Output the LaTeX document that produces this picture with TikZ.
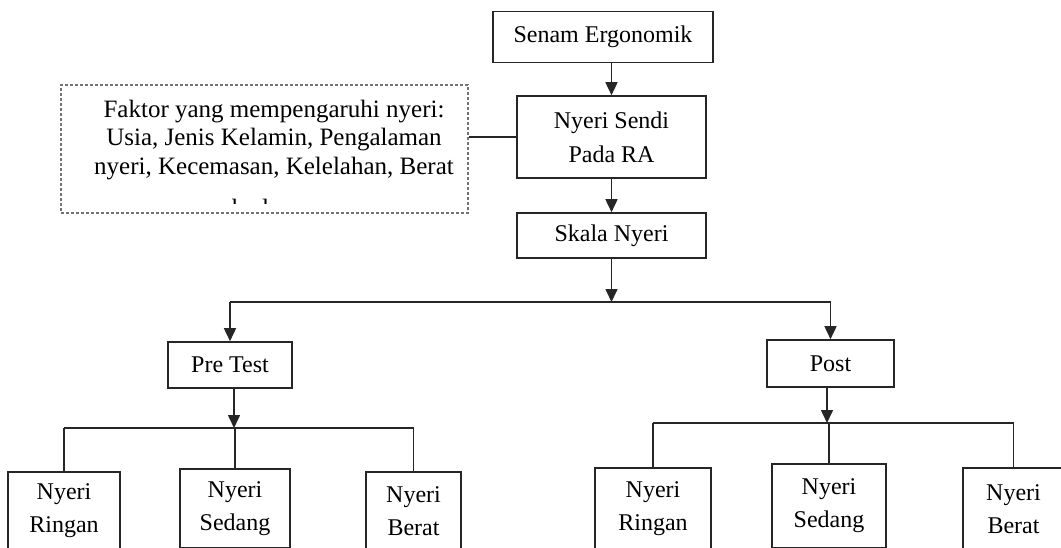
\documentclass[tikz,border=0pt]{standalone}
\usepackage{fontspec}
\setmainfont{Liberation Serif}
\usetikzlibrary{arrows.meta}
\begin{document}
\begin{tikzpicture}[x=1pt,y=-1pt,
  box/.style={draw=black!85,line width=1.6pt,align=center,inner sep=0pt,font=\fontsize{24}{33}\selectfont},
  conn/.style={draw=black!85,line width=1.6pt},
  arr/.style={conn,-{Triangle[width=12pt,length=13pt]}},
  faktor/.style={draw=black!55,line width=1.2pt,dash pattern=on 3pt off 2pt},
  ftxt/.style={font=\fontsize{25}{28.5}\selectfont,align=center,inner sep=0pt}]
\path[use as bounding box] (0,0) rectangle (1061,547);
\clip (0,0) rectangle (1061,547);

% top chain
\node[box,minimum width=220pt,minimum height=51pt] (senam) at (603,37) {Senam Ergonomik};
\node[box,minimum width=189pt,minimum height=82pt,font=\fontsize{24}{34}\selectfont] (sendi) at (611.5,137) {Nyeri Sendi\\Pada RA};
\node[box,minimum width=189pt,minimum height=45pt] (skala) at (611.5,235.5) {Skala Nyeri};

% factor box
\node[faktor,minimum width=407pt,minimum height=128pt] (faktor) at (264.5,149) {};
\node[ftxt] (ftext) at (274,140) {Faktor yang mempengaruhi nyeri:\\Usia, Jenis Kelamin, Pengalaman\\nyeri, Kecemasan, Kelelahan, Berat};
\begin{scope}
  \clip (62,190) rectangle (467,203.5);
  \node[ftxt,anchor=base] (badan) at (262,216.5) {badan};
\end{scope}

% second level
\node[box,minimum width=124pt,minimum height=46pt] (pre) at (230,365) {Pre Test};
\node[box,minimum width=127pt,minimum height=47pt] (post) at (830.5,363.5) {Post};

% bottom level
\node[box,minimum width=112pt,minimum height=78pt] (lr) at (64,511) {Nyeri\\Ringan};
\node[box,minimum width=110pt,minimum height=79pt] (ls) at (235,508.5) {Nyeri\\Sedang};
\node[box,minimum width=95pt,minimum height=78pt] (lb) at (413.5,511) {Nyeri\\Berat};
\node[box,minimum width=116pt,minimum height=82pt] (rr) at (653,509) {Nyeri\\Ringan};
\node[box,minimum width=114pt,minimum height=84pt] (rs) at (829,506) {Nyeri\\Sedang};
\node[box,minimum width=101pt,minimum height=82pt] (rb) at (1013.5,509) {Nyeri\\Berat};

% connectors
\draw[arr] (sendi.north |- senam.south) -- (sendi.north);
\draw[arr] (sendi) -- (skala);
\draw[conn,line width=1.3pt] (faktor.east |- sendi.west) -- (sendi.west);

\coordinate (j1) at (611.5,302);
\draw[arr] (skala.south) -- (j1);
\draw[conn] (pre.north |- j1) -- (post.north |- j1);
\draw[arr] (pre.north |- j1) -- (pre.north);
\draw[arr] (post.north |- j1) -- (post.north);

\coordinate (j2) at (234,428);
\draw[arr] (j2 |- pre.south) -- (j2);
\draw[conn] (lr.north |- j2) -- (lb.north |- j2);
\draw[conn] (lr.north |- j2) -- (lr.north);
\draw[conn] (ls.north |- j2) -- (ls.north);
\draw[conn] (lb.north |- j2) -- (lb.north);

\coordinate (j3) at (827,423);
\draw[arr] (j3 |- post.south) -- (j3);
\draw[conn] (rr.north |- j3) -- (rb.north |- j3);
\draw[conn] (rr.north |- j3) -- (rr.north);
\draw[conn] (rs.north |- j3) -- (rs.north);
\draw[conn] (rb.north |- j3) -- (rb.north);
\end{tikzpicture}
\end{document}
